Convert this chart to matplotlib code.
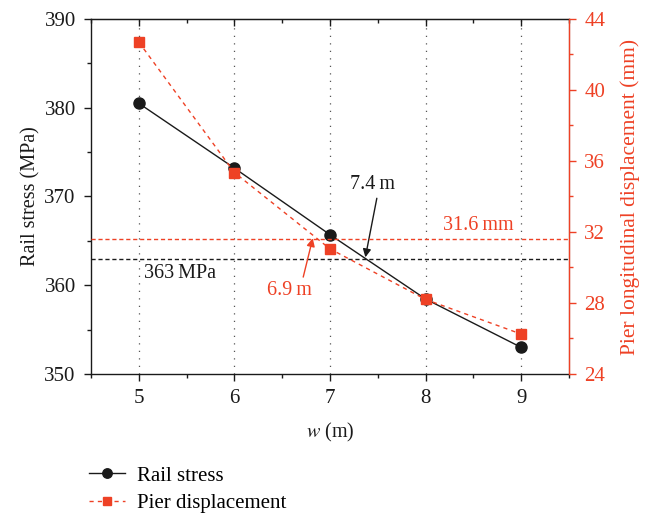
import matplotlib
matplotlib.use("Agg")
import matplotlib.pyplot as plt
from matplotlib.ticker import MultipleLocator

plt.rcParams['font.family'] = ['Liberation Serif', 'DejaVu Serif']
plt.rcParams['mathtext.fontset'] = 'stix'

w = [5, 6, 7, 8, 9]
rail_stress = [380.5, 373.2, 365.7, 358.45, 353.0]
pier_disp = [42.7, 35.35, 31.05, 28.2, 26.25]
stress_limit = 363
disp_limit = 31.6
stress_cross = 7.4
disp_cross = 6.9

RED = '#ee4125'
BLACK = '#1a1a1a'
FS_TICK = 15
FS_ANN = 14.5

fig = plt.figure(figsize=(6.49, 5.16), dpi=100)
ax = fig.add_axes([0.1402, 0.2752, 0.7365, 0.688])
ax2 = ax.twinx()

ax.set_xlim(4.5, 9.5)
ax.set_ylim(350, 390)
ax2.set_ylim(24, 44)

for xv in w:
    ax.axvline(xv, color='#555555', lw=0.9, ls=(0, (1, 5)), zorder=0)

ax.axhline(stress_limit, color=BLACK, lw=1.0, ls=(0, (3, 2)), zorder=1)
ax2.axhline(disp_limit, color=RED, lw=1.0, ls=(0, (3, 2)), zorder=1)

l1, = ax.plot(w, rail_stress, color=BLACK, lw=1.0, marker='o', ms=8,
              markeredgecolor=BLACK, markerfacecolor=BLACK, zorder=3, label='Rail stress')
l2, = ax2.plot(w, pier_disp, color=RED, lw=1.0, ls=(0, (3, 3)), marker='s', ms=7,
               markeredgecolor=RED, markerfacecolor=RED, zorder=3, label='Pier displacement')

ax.set_xticks(w)
ax.xaxis.set_minor_locator(MultipleLocator(0.5))
ax.yaxis.set_major_locator(MultipleLocator(10))
ax.yaxis.set_minor_locator(MultipleLocator(5))
ax2.yaxis.set_major_locator(MultipleLocator(4))
ax2.yaxis.set_minor_locator(MultipleLocator(2))

ax.tick_params(axis='both', which='major', direction='out', length=5, width=1.0,
               labelsize=FS_TICK, colors=BLACK)
ax.tick_params(axis='x', which='major', pad=6)
ax.tick_params(axis='y', which='major', pad=6)
ax.tick_params(axis='both', which='minor', direction='out', length=3, width=1.0, colors=BLACK)
ax2.tick_params(axis='y', which='major', direction='out', length=5, width=1.0,
                labelsize=FS_TICK, colors=RED, pad=6)
ax2.tick_params(axis='y', which='minor', direction='out', length=3, width=1.0, colors=RED)

sec = ax.secondary_xaxis('top')
sec.set_xticks(w)
sec.xaxis.set_minor_locator(MultipleLocator(0.5))
sec.tick_params(which='major', direction='in', length=5, width=1.0, labeltop=False, colors=BLACK)
sec.tick_params(which='minor', direction='in', length=3, width=1.0, colors=BLACK)
sec.spines['top'].set_color(BLACK)

for s in ['left', 'bottom', 'top']:
    ax.spines[s].set_color(BLACK)
    ax.spines[s].set_linewidth(1.0)
ax2.spines['right'].set_color(RED)
ax2.spines['right'].set_linewidth(1.0)
ax2.spines['left'].set_visible(False)
ax2.spines['top'].set_visible(False)
ax2.spines['bottom'].set_visible(False)

ax.set_xlabel(r'$\it{w}$ (m)', fontsize=14.5, color=BLACK, labelpad=9)
ax.set_ylabel('Rail stress (MPa)', fontsize=14.5, color=BLACK, labelpad=2.5)
ax2.set_ylabel('Pier longitudinal displacement (mm)', fontsize=15.5, color=RED, labelpad=11)

ax.text(5.43, 361.3, '363\u2009MPa', fontsize=FS_ANN, color=BLACK, ha='center', va='center')
ax2.text(8.55, 32.34, '31.6\u2009mm', fontsize=FS_ANN, color=RED, ha='center', va='center')

ax.text(7.44, 371.3, '7.4\u2009m', fontsize=FS_ANN, color=BLACK, ha='center', va='center')
ax.annotate('', xy=(7.37, stress_limit + 0.15), xytext=(7.49, 369.8),
            arrowprops=dict(arrowstyle='-|>', color=BLACK, lw=1.0, mutation_scale=12,
                            shrinkA=0, shrinkB=0))
ax2.text(6.58, 28.73, '6.9\u2009m', fontsize=FS_ANN, color=RED, ha='center', va='center')
ax2.annotate('', xy=(6.82, disp_limit + 0.05), xytext=(6.72, 29.46),
             arrowprops=dict(arrowstyle='-|>', color=RED, lw=1.0, mutation_scale=12,
                             shrinkA=0, shrinkB=0))

fig.legend(handles=[l1, l2], loc='upper left', bbox_to_anchor=(0.124, 0.113),
           frameon=False, fontsize=15, handlelength=1.75, handletextpad=0.55,
           labelspacing=0.38, borderaxespad=0, markerscale=0.85)

fig.savefig('out.png', dpi=100)
